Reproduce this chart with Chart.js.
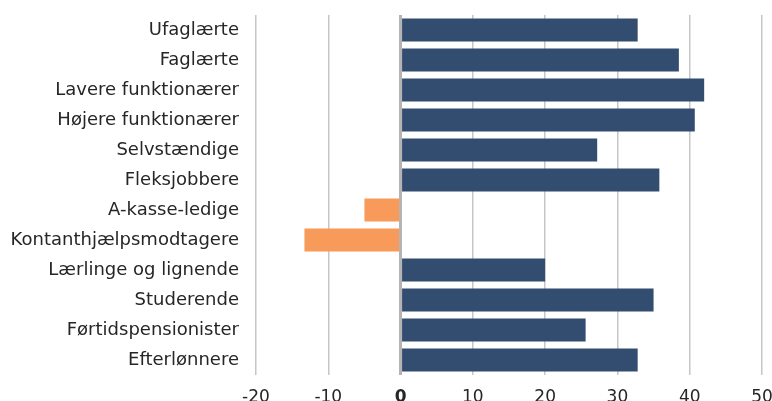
<!DOCTYPE html>
<html>
<head>
<meta charset="utf-8">
<script src="https://cdn.jsdelivr.net/npm/chart.js@4"></script>
<style>
  html, body { margin: 0; padding: 0; background: #fff; }
  #wrap { width: 772px; height: 401px; }
</style>
</head>
<body>
<div id="wrap"><canvas id="barChart"></canvas></div>
<script>
// Kategorier og værdier
const categories = [
    'Ufaglærte', 'Faglærte', 'Lavere funktionærer', 'Højere funktionærer',
    'Selvstændige', 'Fleksjobbere', 'A-kasse-ledige', 'Kontanthjælpsmodtagere',
    'Lærlinge og lignende', 'Studerende', 'Førtidspensionister', 'Efterlønnere'
];
const values = [32.8, 38.5, 42.0, 40.7, 27.2, 35.8, -5.0, -13.3, 20.0, 35.0, 25.6, 32.8];
const xTicks = [-20, -10, 0, 10, 20, 30, 40, 50];

const blue = '#334d70';
const orange = '#f79a5a';
const fontFamily = 'DejaVu Sans';

let canvas = document.querySelector('#barChart');

const config = {
    type: 'bar',
    data: {
        labels: categories,
        datasets: [{
            data: values,
            backgroundColor: values.map(v => v < 0 ? orange : blue),
            borderWidth: 0,
            categoryPercentage: 0.77,
            barPercentage: 1.0
        }]
    },
    options: {
        indexAxis: 'y',
        responsive: true,
        maintainAspectRatio: false,
        animation: false,
        layout: { padding: { top: 15, right: 10, bottom: 0, left: 0 } },
        plugins: {
            legend: { display: false },
            tooltip: { enabled: false }
        },
        scales: {
            x: {
                min: xTicks[0],
                max: xTicks[xTicks.length - 1],
                afterBuildTicks: scale => { scale.ticks = xTicks.map(v => ({ value: v })); },
                afterFit: scale => {
                    scale.height = 26;
                    scale.paddingLeft = 0;
                    scale.paddingRight = 0;
                },
                border: { display: false },
                grid: {
                    color: ctx => ctx.tick && ctx.tick.value === 0 ? '#b4b4b4' : '#c6c6c6',
                    lineWidth: ctx => ctx.tick && ctx.tick.value === 0 ? 3 : 1.5,
                    drawTicks: false
                },
                ticks: {
                    padding: 12,
                    color: '#262626',
                    font: ctx => ({
                        family: fontFamily,
                        size: 17,
                        weight: ctx.tick && ctx.tick.value === 0 ? 'bold' : 'normal'
                    })
                }
            },
            y: {
                border: { display: false },
                grid: { display: false, drawTicks: false },
                afterFit: scale => {
                    scale.width = 256;
                    scale.paddingTop = 0;
                    scale.paddingBottom = 0;
                },
                ticks: {
                    padding: 17,
                    color: '#262626',
                    font: { family: fontFamily, size: 18 }
                }
            }
        }
    }
};

if (canvas) {
    new Chart(canvas, config);
}
</script>
</body>
</html>
